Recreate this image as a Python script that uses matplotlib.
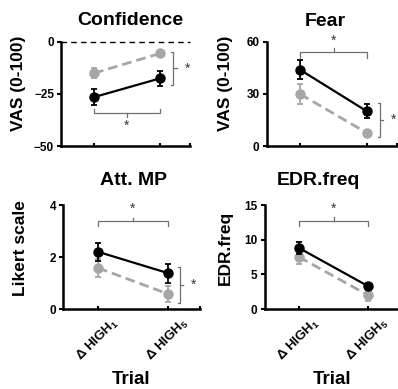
import matplotlib
matplotlib.use('Agg')
import matplotlib.pyplot as plt

plt.rcParams['font.family'] = ['Liberation Sans', 'DejaVu Sans']
plt.rcParams['font.weight'] = 'bold'
plt.rcParams['mathtext.fontset'] = 'custom'
plt.rcParams['mathtext.rm'] = 'Liberation Sans:bold'
plt.rcParams['mathtext.bf'] = 'Liberation Sans:bold'

# Data (mean, error)
trials = [1, 2]
trial_labels = [r'Δ HIGH$_1$', r'Δ HIGH$_5$']

conf_black = [-26.5, -17.5]
conf_black_err = [4.0, 3.5]
conf_gray = [-15.0, -5.5]
conf_gray_err = [2.5, 1.2]

fear_black = [44.0, 20.0]
fear_black_err = [5.5, 4.0]
fear_gray = [30.0, 7.5]
fear_gray_err = [5.5, 1.5]

att_black = [2.2, 1.38]
att_black_err = [0.35, 0.37]
att_gray = [1.58, 0.58]
att_gray_err = [0.33, 0.3]

edr_black = [8.8, 3.3]
edr_black_err = [0.9, 0.5]
edr_gray = [7.5, 2.0]
edr_gray_err = [1.0, 0.8]

GRAY = '#a6a6a6'
BRK = '#707070'
XMIN, XMAX = 0.5, 2.45

fig = plt.figure(figsize=(3.98, 3.89), dpi=100)


def add_ax(left_px, top_px, spacing_px):
    w = (XMAX - XMIN) * spacing_px
    h = 104
    return fig.add_axes([left_px / 398, (389 - top_px - h) / 389, w / 398, h / 389])


def style(ax, yticks, ylim, bottom_row):
    ax.set_xlim(XMIN, XMAX)
    ax.set_ylim(*ylim)
    ax.set_yticks(yticks)
    ax.spines['top'].set_visible(False)
    ax.spines['right'].set_visible(False)
    ax.spines['left'].set_linewidth(1.8)
    ax.spines['bottom'].set_linewidth(1.8)
    ax.tick_params(axis='y', direction='out', length=3, width=1.5, labelsize=8.5, pad=2)
    ax.set_xticks(trials)
    ax.set_xticks([XMAX], minor=True)
    ax.tick_params(axis='x', which='both', direction='in', length=2, width=1.5)
    if bottom_row:
        ax.set_xticklabels(trial_labels, rotation=45, fontsize=9.5, fontweight='bold')
        ax.tick_params(axis='x', pad=5)
        ax.set_xlabel('Trial', fontsize=13.5, fontweight='bold')
        ax.xaxis.set_label_coords(0.5, -0.6)
    else:
        ax.set_xticklabels(['', ''])
    for lab in ax.get_yticklabels():
        lab.set_fontweight('bold')


def series(ax, yb, eb, yg, eg):
    ax.errorbar(trials, yg, yerr=eg, color=GRAY, ls=(0, (3.5, 1.8)), lw=2,
                marker='o', ms=6.5, capsize=2.5, elinewidth=1.3, capthick=1.3, zorder=3)
    ax.errorbar(trials, yb, yerr=eb, color='black', ls='-', lw=1.6,
                marker='o', ms=6.5, capsize=2.5, elinewidth=1.3, capthick=1.3, zorder=4)


def hbracket(ax, y, end, mid, star_y):
    ax.plot([1, 1, 2, 2], [end, y, y, end], color=BRK, lw=0.9, clip_on=False)
    ax.plot([1.5, 1.5], [y, mid], color=BRK, lw=0.9, clip_on=False)
    ax.text(1.5, star_y, '*', ha='center', va='center', fontsize=10, color='#333333',
            fontweight='normal', clip_on=False)


def vbracket(ax, x, y1, y2, star_x):
    ax.plot([x - 0.03, x, x, x - 0.03], [y1, y1, y2, y2], color=BRK, lw=0.9, clip_on=False)
    ym = (y1 + y2) / 2
    ax.plot([x, x + 0.05], [ym, ym], color=BRK, lw=0.9, clip_on=False)
    ax.text(star_x, ym, '*', ha='center', va='center', fontsize=10, color='#333333',
            fontweight='normal', clip_on=False)


def title(ax, text, x, y):
    ax.text(x, y, text, transform=ax.transAxes, ha='center', va='center',
            fontsize=14, fontweight='bold')


def ylabel(ax, text, x, y):
    ax.text(x, y, text, transform=ax.transAxes, ha='center', va='center',
            rotation=90, fontsize=12.5, fontweight='bold')


# Confidence
ax1 = add_ax(61, 42, 66)
style(ax1, [-50, -25, 0], (-50, 0), False)
ax1.axhline(0, color='black', ls=(0, (4, 3)), lw=1, clip_on=False)
series(ax1, conf_black, conf_black_err, conf_gray, conf_gray_err)
hbracket(ax1, -34, -32, -36, -40.5)
vbracket(ax1, 2.2, -4.6, -20.7, 2.42)
title(ax1, 'Confidence', 0.535, 1.21)
ylabel(ax1, 'VAS (0-100)', -0.33, 0.6)

# Fear
ax2 = add_ax(266.5, 42, 67)
style(ax2, [0, 30, 60], (0, 60), False)
series(ax2, fear_black, fear_black_err, fear_gray, fear_gray_err)
hbracket(ax2, 54, 51, 56.5, 60.5)
vbracket(ax2, 2.19, 24.8, 5.2, 2.39)
title(ax2, 'Fear', 0.447, 1.2)
ylabel(ax2, 'VAS (0-100)', -0.317, 0.6)

# Att. MP
ax3 = add_ax(63, 205, 70)
style(ax3, [0, 2, 4], (0, 4), True)
series(ax3, att_black, att_black_err, att_gray, att_gray_err)
hbracket(ax3, 3.38, 3.2, 3.5, 3.85)
vbracket(ax3, 2.17, 1.6, 0.23, 2.36)
title(ax3, 'Att. MP', 0.52, 1.24)
ylabel(ax3, 'Likert scale', -0.315, 0.59)

# EDR.freq
ax4 = add_ax(264.5, 205, 69)
style(ax4, [0, 5, 10, 15], (0, 15), True)
series(ax4, edr_black, edr_black_err, edr_gray, edr_gray_err)
hbracket(ax4, 12.7, 12.0, 13.2, 14.5)
title(ax4, 'EDR.freq', 0.4, 1.24)
ylabel(ax4, 'EDR.freq', -0.294, 0.59)

fig.savefig('out.png', dpi=100)
